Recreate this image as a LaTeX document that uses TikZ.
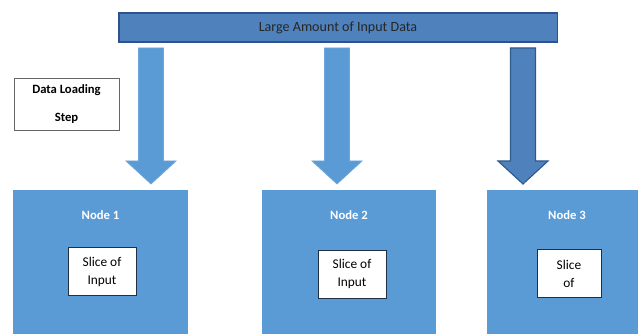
\documentclass[tikz,border=0pt]{standalone}
\usepackage{fontspec}
\setmainfont{Carlito}
\usepackage{tikz}
\usetikzlibrary{positioning}
\definecolor{BarBlue}{HTML}{4F81BD}
\definecolor{BarEdge}{HTML}{2F528F}
\definecolor{NodeBlue}{HTML}{5B9BD5}
\definecolor{ArrowEdge}{HTML}{6FA6DA}
\definecolor{DarkEdge}{HTML}{2E5A8C}
\definecolor{SliceEdge}{HTML}{1F2F44}
\tikzset{
  barnode/.style={
    draw=BarEdge,fill=BarBlue,line width=0.8pt,
    minimum width=10.95cm,minimum height=0.725cm,
    font=\fontsize{10}{12}\selectfont\color{black!85},
    align=center,inner sep=0pt
  },
  stepnode/.style={
    draw=black!60,fill=white,line width=0.5pt,
    minimum width=2.625cm,minimum height=1.3cm,
    font=\fontsize{9}{19.8}\selectfont\bfseries,
    align=center,inner sep=0pt
  },
  clusternode/.style={
    fill=NodeBlue,anchor=north,
    minimum height=3.9cm,inner sep=0pt
  },
  titlenode/.style={
    font=\fontsize{9}{11}\selectfont\bfseries\color{white},
    inner sep=0pt
  },
  slicenode/.style={
    draw=SliceEdge,fill=white,line width=0.6pt,
    minimum width=1.7cm,minimum height=1.2cm,
    font=\fontsize{9.5}{12.8}\selectfont,
    align=center,inner sep=0pt
  },
  lightarrow/.style={fill=NodeBlue,draw=ArrowEdge,line width=0.5pt},
  darkarrow/.style={fill=BarBlue,draw=DarkEdge,line width=0.8pt},
}
\begin{document}
\begin{tikzpicture}[x=0.025cm,y=-0.025cm]
  \useasboundingbox[fill=white] (0,0) rectangle (638,334);
  \node[barnode] (bar) at (338,27.5) {Large Amount of Input Data};
  \node[stepnode] (step) at (66.5,104) {Data Loading\\Step};
  \node[clusternode,minimum width=4.375cm] (c1) at (100.5,190) {};
  \node[clusternode,minimum width=4.35cm] (c2) at (349,190) {};
  \node[clusternode,minimum width=4.0cm] (c3) at (567,190) {};
  \node[titlenode,below=0.5cm of c1.north] (t1) {Node 1};
  \node[titlenode,below=0.5cm of c2.north] (t2) {Node 2};
  \node[titlenode,below=0.5cm of c3.north] (t3) {Node 3};
  \node[slicenode] (s1) at (102,271.5) {Slice of\\Input};
  \node[slicenode] (s2) at (352,274) {Slice of\\Input};
  \node[slicenode,minimum width=1.6cm] (s3) at (569,273.5) {Slice\\of};
  % block arrows from the input bar down to the nodes
  \foreach \cx/\sty in {151/lightarrow,337/lightarrow,523/darkarrow}{
    \draw[\sty] (\cx-12.5,48) -- (\cx+12.5,48) -- (\cx+12.5,161)
      -- (\cx+25,161) -- (\cx,184) -- (\cx-25,161) -- (\cx-12.5,161) -- cycle;
  }
\end{tikzpicture}
\end{document}
